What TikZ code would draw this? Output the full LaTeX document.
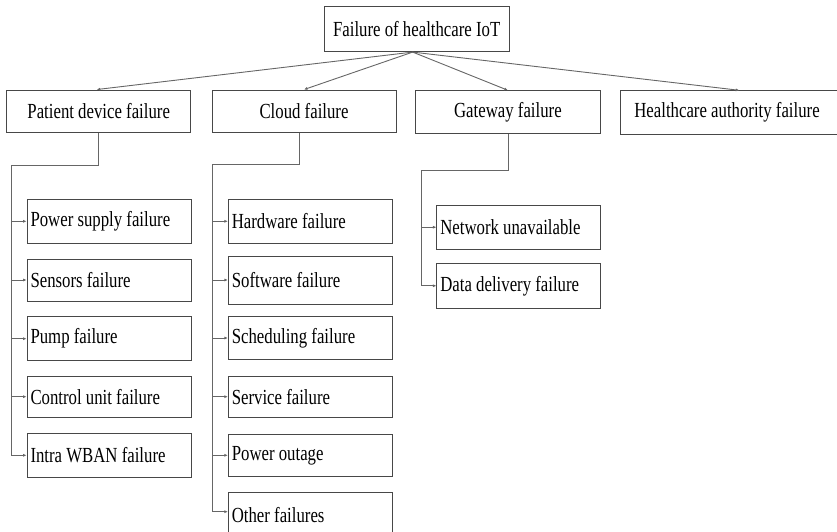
\documentclass[tikz,border=0pt]{standalone}
\usepackage{fontspec}
\setmainfont[FakeStretch=0.78]{Liberation Serif}
\usetikzlibrary{arrows.meta}
\newcommand{\leaftext}[1]{\makebox[157pt][l]{#1}}
\tikzset{
  box/.style={draw=black!72, line width=0.8pt, inner sep=0pt, font=\fontsize{21.5}{24}\selectfont},
  topbox/.style={box, minimum height=42.5pt},
  leaf/.style={box, minimum width=164pt},
  link/.style={draw=black!60, line width=0.9pt},
  arr/.style={link, -{Latex[length=3.5pt,width=3pt]}}
}
\begin{document}
\begin{tikzpicture}[x=1pt,y=-1pt]
\useasboundingbox (0,0) rectangle (837,532);
\clip (0,0) rectangle (837,532);
% root
\node[box, minimum width=185.3pt, minimum height=45.7pt] (root) at (416.7,28.85) {Failure of healthcare IoT};
% level 1
\node[topbox, minimum width=184pt] (pd) at (98.7,111.2) {Patient device failure};
\node[topbox, minimum width=184pt] (cl) at (304,111.2) {Cloud failure};
\node[topbox, minimum width=185.7pt, minimum height=42.6pt] (gw) at (507.9,112) {Gateway failure};
\node[topbox, minimum width=226pt, minimum height=43.6pt] (ha) at (733.7,112.5) {\hspace*{-13.4pt}Healthcare authority failure};
% level 2: patient device
\node[leaf, minimum height=44pt] (p1) at (109,221.3) {\leaftext{Power supply failure}};
\node[leaf, minimum height=42pt] (p2) at (109,280) {\leaftext{Sensors failure}};
\node[leaf, minimum height=44pt] (p3) at (109,338.7) {\leaftext{Pump failure}};
\node[leaf, minimum height=41.3pt] (p4) at (109,396.7) {\leaftext{Control unit failure}};
\node[leaf, minimum height=44pt] (p5) at (109,455.3) {\leaftext{Intra WBAN failure}};
% level 2: cloud
\node[leaf, minimum height=44pt] (c1) at (310.3,221.3) {\leaftext{Hardware failure}};
\node[leaf, minimum height=48pt] (c2) at (310.3,280) {\leaftext{Software failure}};
\node[leaf, minimum height=42.6pt] (c3) at (310.3,338) {\leaftext{Scheduling failure}};
\node[leaf, minimum height=41.3pt] (c4) at (310.3,396.7) {\leaftext{Service failure}};
\node[leaf, minimum height=42.7pt] (c5) at (310.3,455.3) {\leaftext{Power outage}};
\node[leaf, minimum height=44.3pt] (c6) at (310.3,514.9) {\leaftext{Other failures}};
% level 2: gateway
\node[leaf, minimum height=44.3pt] (g1) at (518.85,227.2) {\leaftext{Network unavailable}};
\node[leaf, minimum height=45pt] (g2) at (518.85,285.8) {\leaftext{Data delivery failure}};
% root connectors
\coordinate (rs) at ([xshift=-4pt]root.south);
\draw[arr] (rs) -- ([xshift=-2pt]pd.north);
\draw[arr] (rs) -- (cl.north);
\draw[arr] (rs) -- (gw.north);
\draw[arr] (rs) -- ([xshift=5.6pt]ha.north);
% rails
\coordinate (pr) at (11.7,165);
\coordinate (cr) at (212,164);
\coordinate (gr) at (421,170.7);
\draw[link] (pd.south) |- (pr);
\draw[link] ([xshift=-4.7pt]cl.south) |- (cr);
\draw[link] ([xshift=0.4pt]gw.south) |- (gr);
\foreach \n in {p1,p2,p3,p4,p5} \draw[arr] (pr) |- (\n.west);
\foreach \n in {c1,c2,c3,c4,c5} \draw[arr] (cr) |- (\n.west);
\draw[arr] (cr) |- ([yshift=3.2pt]c6.west);
\foreach \n in {g1,g2} \draw[arr] (gr) |- (\n.west);
\end{tikzpicture}
\end{document}
